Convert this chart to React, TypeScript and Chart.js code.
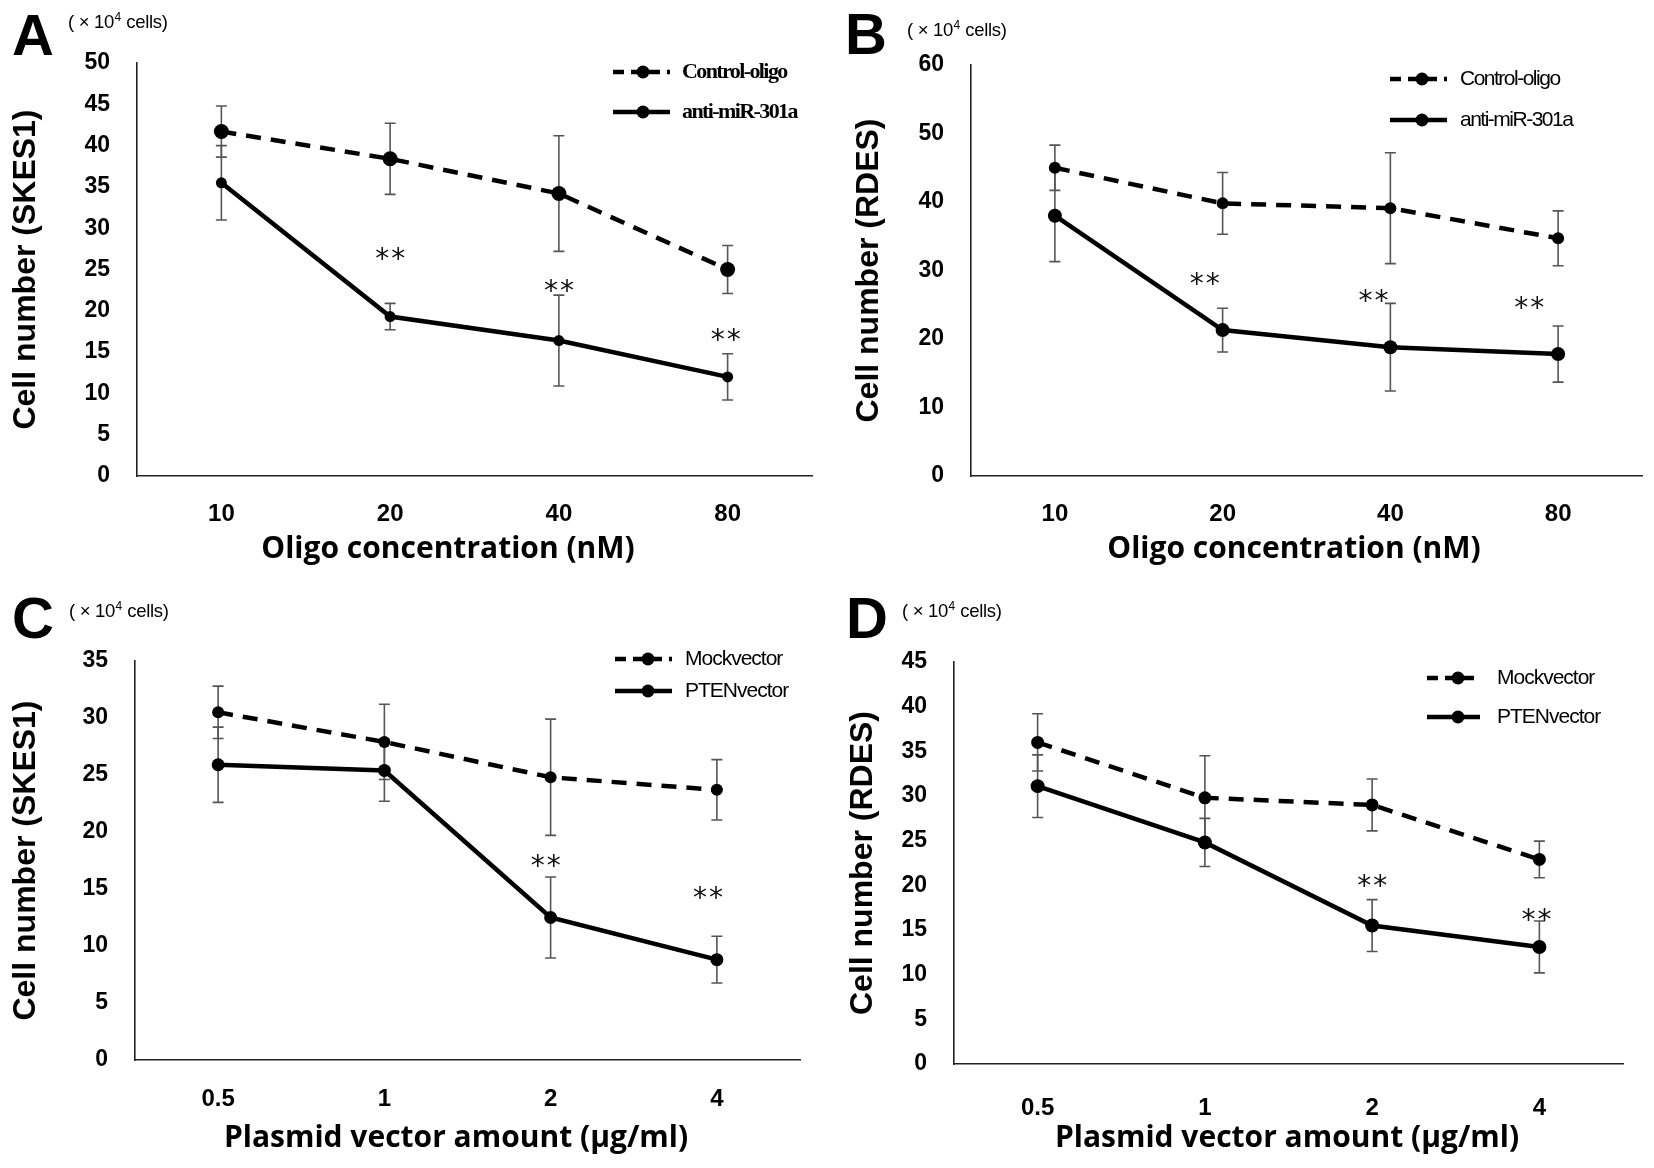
import React, { useEffect, useRef } from 'react';
import { Chart, registerables } from 'chart.js';

Chart.register(...registerables);

// ---------------- data ----------------
const oligoLabels = ['10', '20', '40', '80'];
const plasmidLabels = ['0.5', '1', '2', '4'];

const aControl = [41.7, 38.4, 34.2, 25.0];
const aControlErr = [3.1, 4.3, 7.0, 2.9];
const aAnti = [35.5, 19.3, 16.4, 12.0];
const aAntiErr = [4.5, 1.6, 5.5, 2.8];
const aStars: (number | null)[] = [null, 27.0, 23.2, 17.3];

const bControl = [45.0, 39.8, 39.1, 34.7];
const bControlErr = [3.3, 4.5, 8.1, 4.0];
const bAnti = [38.0, 21.3, 18.8, 17.8];
const bAntiErr = [6.7, 3.2, 6.4, 4.1];
const bStars: (number | null)[] = [null, 29.0, 26.5, 25.5];

const cMock = [30.5, 27.9, 24.8, 23.7];
const cMockErr = [2.3, 3.3, 5.1, 2.65];
const cPten = [25.9, 25.4, 12.5, 8.8];
const cPtenErr = [3.3, 2.7, 3.55, 2.05];
const cStars: (number | null)[] = [null, null, 17.6, 14.8];

const dMock = [36.0, 29.8, 29.0, 22.9];
const dMockErr = [3.2, 4.7, 2.9, 2.05];
const dPten = [31.1, 24.8, 15.5, 13.1];
const dPtenErr = [3.5, 2.7, 2.9, 2.9];
const dStars: (number | null)[] = [null, null, 20.7, 16.9];

// ---------------- styling ----------------
const W = 827;
const H = 584;
const ARIAL = "'Liberation Sans', Arial, sans-serif";
const OPEN = "'Open Sans', 'Liberation Sans', sans-serif";
const SERIF = "'Liberation Serif', 'Times New Roman', serif";

type Series = { name: string; data: number[]; err: number[]; radius: number; dashed: boolean };
type Panel = {
  x: number; y: number;
  letter: string; letterX: number; letterBase: number;
  unitX: number; unitY: number;
  labels: string[];
  yMax: number; yStep: number;
  yTitle: string; xTitle: string;
  s1: Series; s2: Series;
  stars: (number | null)[]; starDx: number[];
  area: { l: number; r: number; t: number; b: number };
  yTitleCenter: number; xTitleX: number; xTitleCenter: number; xTickCenter: number;
  legend: { x0: number; x1: number; dot: number; text: number; y1: number; y2: number; font: string; spacing: number };
};

const panels: Panel[] = [
  {
    x: 0, y: 0, letter: 'A', letterX: 12, letterBase: 55, unitX: 68, unitY: 23,
    labels: oligoLabels, yMax: 50, yStep: 5,
    yTitle: 'Cell number (SKES1)', xTitle: 'Oligo concentration (nM)',
    s1: { name: 'Control-oligo', data: aControl, err: aControlErr, radius: 7.5, dashed: true },
    s2: { name: 'anti-miR-301a', data: aAnti, err: aAntiErr, radius: 5.5, dashed: false },
    stars: aStars, starDx: [0, 0, 0, -2],
    area: { l: 137, r: 812, t: 63, b: 476 },
    yTitleCenter: 26.5, xTitleX: 448, xTitleCenter: 549, xTickCenter: 514,
    legend: { x0: 613, x1: 670, dot: 643, text: 682, y1: 72, y2: 112, font: `bold 22px ${SERIF}`, spacing: -1.6 },
  },
  {
    x: 827, y: 0, letter: 'B', letterX: 18, letterBase: 54, unitX: 80, unitY: 31,
    labels: oligoLabels, yMax: 60, yStep: 10,
    yTitle: 'Cell number (RDES)', xTitle: 'Oligo concentration (nM)',
    s1: { name: 'Control-oligo', data: bControl, err: bControlErr, radius: 6, dashed: true },
    s2: { name: 'anti-miR-301a', data: bAnti, err: bAntiErr, radius: 7, dashed: false },
    stars: bStars, starDx: [0, -18, -17, -29],
    area: { l: 144, r: 815, t: 65, b: 476 },
    yTitleCenter: 42, xTitleX: 467, xTitleCenter: 549, xTickCenter: 514,
    legend: { x0: 563, x1: 620, dot: 595, text: 633, y1: 79, y2: 120, font: `21px ${ARIAL}`, spacing: -1.5 },
  },
  {
    x: 0, y: 584, letter: 'C', letterX: 12, letterBase: 54, unitX: 69, unitY: 28,
    labels: plasmidLabels, yMax: 35, yStep: 5,
    yTitle: 'Cell number (SKES1)', xTitle: 'Plasmid vector amount (µg/ml)',
    s1: { name: 'Mockvector', data: cMock, err: cMockErr, radius: 6, dashed: true },
    s2: { name: 'PTENvector', data: cPten, err: cPtenErr, radius: 6.5, dashed: false },
    stars: cStars, starDx: [0, 0, -5, -9],
    area: { l: 135, r: 800, t: 77, b: 476 },
    yTitleCenter: 26, xTitleX: 456, xTitleCenter: 554, xTickCenter: 515,
    legend: { x0: 615, x1: 672, dot: 648, text: 685, y1: 75, y2: 107, font: `21px ${ARIAL}`, spacing: -1.0 },
  },
  {
    x: 827, y: 584, letter: 'D', letterX: 19, letterBase: 54, unitX: 75, unitY: 28,
    labels: plasmidLabels, yMax: 45, yStep: 5,
    yTitle: 'Cell number (RDES)', xTitle: 'Plasmid vector amount (µg/ml)',
    s1: { name: 'Mockvector', data: dMock, err: dMockErr, radius: 6.5, dashed: true },
    s2: { name: 'PTENvector', data: dPten, err: dPtenErr, radius: 7, dashed: false },
    stars: dStars, starDx: [0, 0, 0, -3],
    area: { l: 127, r: 796, t: 78, b: 480 },
    yTitleCenter: 36, xTitleX: 460, xTitleCenter: 554, xTickCenter: 524,
    legend: { x0: 600, x1: 653, dot: 631, text: 670, y1: 94, y2: 133, font: `21px ${ARIAL}`, spacing: -1.0 },
  },
];

const DASH = [15, 10];

function makeOverlay(p: Panel) {
  return {
    id: 'overlay' + p.letter,
    beforeDatasetsDraw(chart: any) {
      const ctx = chart.ctx as CanvasRenderingContext2D;
      const xs = chart.scales.x;
      const ys = chart.scales.y;
      ctx.save();
      ctx.strokeStyle = '#555';
      ctx.lineWidth = 1.6;
      [p.s1, p.s2].forEach((s) => {
        s.data.forEach((v, i) => {
          const x = xs.getPixelForValue(i);
          const yt = ys.getPixelForValue(v + s.err[i]);
          const yb = ys.getPixelForValue(v - s.err[i]);
          ctx.beginPath();
          ctx.moveTo(x, yt); ctx.lineTo(x, yb);
          ctx.moveTo(x - 5.5, yt); ctx.lineTo(x + 5.5, yt);
          ctx.moveTo(x - 5.5, yb); ctx.lineTo(x + 5.5, yb);
          ctx.stroke();
        });
      });
      ctx.restore();
    },
    afterDraw(chart: any) {
      const ctx = chart.ctx as CanvasRenderingContext2D;
      const xs = chart.scales.x;
      const ys = chart.scales.y;
      ctx.save();
      // significance stars
      ctx.fillStyle = '#111';
      ctx.font = `28px 'DejaVu Sans', sans-serif`;
      ctx.textAlign = 'center';
      ctx.textBaseline = 'alphabetic';
      (ctx as any).letterSpacing = '2px';
      p.stars.forEach((v, i) => {
        if (v == null) return;
        const x = xs.getPixelForValue(i) + p.starDx[i];
        const y = ys.getPixelForValue(v);
        ctx.fillText('**', x + 1, y + 15.5);
      });
      (ctx as any).letterSpacing = '0px';
      // x axis title
      ctx.fillStyle = '#000';
      ctx.textAlign = 'center';
      ctx.textBaseline = 'middle';
      ctx.font = `bold 30px ${OPEN}`;
      ctx.fillText(p.xTitle, p.xTitleX, p.xTitleCenter);
      // panel letter
      ctx.textAlign = 'left';
      ctx.textBaseline = 'alphabetic';
      ctx.font = `bold 58px ${ARIAL}`;
      ctx.fillText(p.letter, p.letterX, p.letterBase);
      // unit text
      ctx.textBaseline = 'middle';
      ctx.font = `18.5px ${ARIAL}`;
      (ctx as any).letterSpacing = '-0.3px';
      let ux = p.unitX;
      const part1 = '( × 10';
      ctx.fillText(part1, ux, p.unitY);
      ux += ctx.measureText(part1).width;
      ctx.font = `12px ${ARIAL}`;
      ctx.fillText('4', ux + 0.5, p.unitY - 5);
      ux += ctx.measureText('4').width + 1;
      ctx.font = `18.5px ${ARIAL}`;
      ctx.fillText(' cells)', ux, p.unitY);
      (ctx as any).letterSpacing = '0px';
      // legend
      const L = p.legend;
      [
        { s: p.s1, y: L.y1 },
        { s: p.s2, y: L.y2 },
      ].forEach(({ s, y }) => {
        ctx.strokeStyle = '#000';
        ctx.lineWidth = 4.5;
        ctx.setLineDash(s.dashed ? [11, 7] : []);
        ctx.beginPath();
        ctx.moveTo(L.x0, y);
        ctx.lineTo(L.x1, y);
        ctx.stroke();
        ctx.setLineDash([]);
        ctx.fillStyle = '#000';
        ctx.beginPath();
        ctx.arc(L.dot, y, 6.5, 0, Math.PI * 2);
        ctx.fill();
        ctx.font = L.font;
        (ctx as any).letterSpacing = `${L.spacing}px`;
        ctx.textAlign = 'left';
        ctx.textBaseline = 'middle';
        ctx.fillText(s.name, L.text, y);
        (ctx as any).letterSpacing = '0px';
      });
      ctx.restore();
    },
  };
}

function PanelChart({ p }: { p: Panel }) {
  const ref = useRef<HTMLCanvasElement>(null);
  useEffect(() => {
    const canvas = ref.current!;
    const ds = (s: Series) => ({
      label: s.name,
      data: s.data,
      borderColor: '#000',
      backgroundColor: '#000',
      borderWidth: 4.5,
      borderDash: s.dashed ? DASH : [],
      pointRadius: s.radius,
      pointHoverRadius: s.radius,
      pointBackgroundColor: '#000',
      pointBorderColor: '#000',
      pointBorderWidth: 0,
      tension: 0,
      fill: false,
      clip: false as any,
    });
    const chart = new Chart(canvas, {
      type: 'line',
      data: { labels: p.labels, datasets: [ds(p.s1), ds(p.s2)] },
      options: {
        animation: false,
        responsive: false,
        devicePixelRatio: 1,
        events: [],
        layout: { padding: { left: 0, right: W - p.area.r, top: p.area.t, bottom: 0 } },
        plugins: { legend: { display: false }, tooltip: { enabled: false } },
        scales: {
          x: {
            type: 'category',
            offset: true,
            grid: { display: false, drawTicks: false },
            border: { display: true, color: '#222', width: 1.6 },
            ticks: {
              color: '#000',
              font: { family: ARIAL, size: 24, weight: 'bold' },
              padding: p.xTickCenter - p.area.b - 14.4,
            },
            title: { display: false },
            afterFit: (s: any) => { s.height = H - p.area.b; },
          },
          y: {
            type: 'linear',
            min: 0,
            max: p.yMax,
            grid: { display: false, drawTicks: false },
            border: { display: true, color: '#222', width: 1.6 },
            ticks: {
              stepSize: p.yStep,
              color: '#000',
              font: { family: ARIAL, size: 23, weight: 'bold' },
              padding: 27,
            },
            title: {
              display: true,
              text: p.yTitle,
              color: '#000',
              font: { family: ARIAL, size: 32, weight: 'bold' },
              padding: { top: p.yTitleCenter - 19.2, bottom: 0 },
            },
            afterFit: (s: any) => { s.width = p.area.l; },
          },
        },
      } as any,
      plugins: [makeOverlay(p)],
    });
    return () => chart.destroy();
  }, []);
  return (
    <canvas
      ref={ref}
      width={W}
      height={H}
      style={{ position: 'absolute', left: p.x, top: p.y, width: W, height: H }}
    />
  );
}

export default function App() {
  return (
    <div style={{ position: 'fixed', left: 0, top: 0, width: 1654, height: 1168, background: '#fff', overflow: 'hidden' }}>
      {panels.map((p) => (
        <PanelChart key={p.letter} p={p} />
      ))}
    </div>
  );
}
